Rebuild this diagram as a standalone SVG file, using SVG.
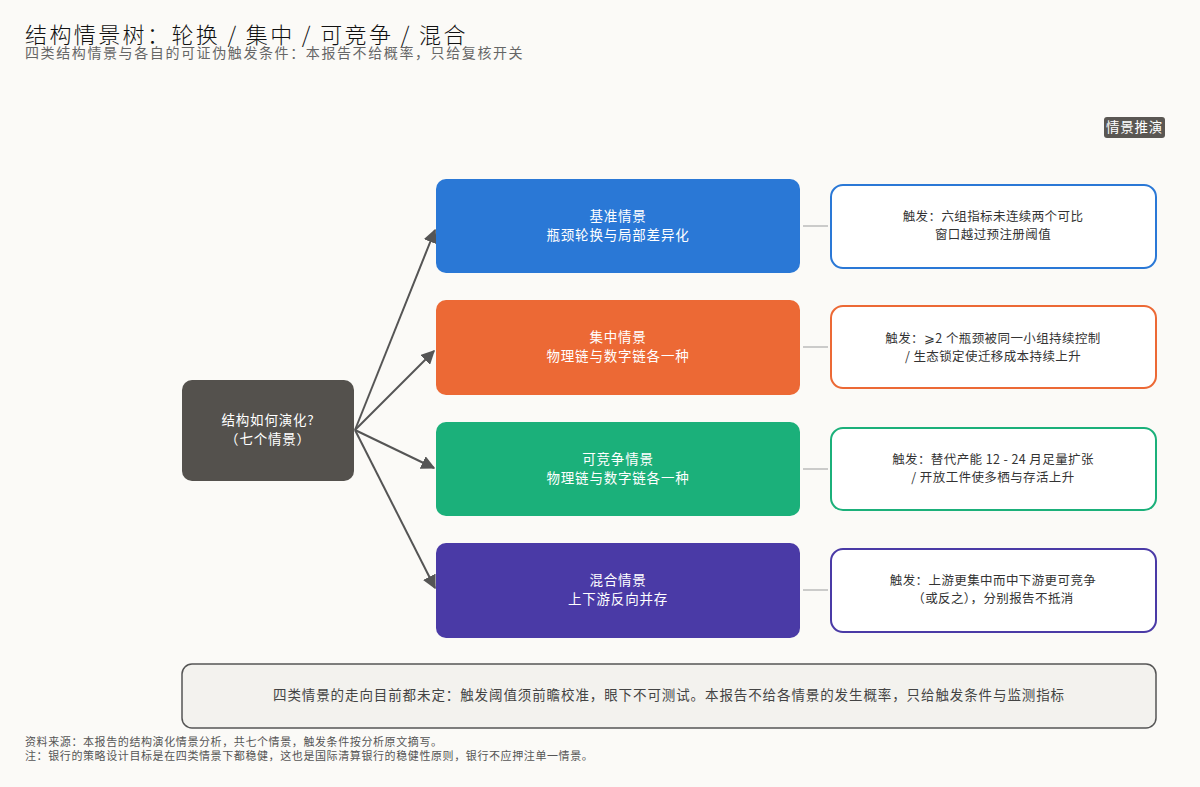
<svg xmlns="http://www.w3.org/2000/svg" width="1200" height="787" viewBox="0 0 1200 787">
<style>
text{font-family:"Noto Sans CJK SC","Liberation Sans",sans-serif}
.w{fill:#fff;font-size:13.5px;text-anchor:middle;letter-spacing:0.8px}
.t{fill:#333;font-size:12.5px;text-anchor:middle;letter-spacing:0.4px}
.trig{fill:#fff;stroke-width:2}
.arr{stroke:#555;stroke-width:2;fill:none;marker-end:url(#ah)}
.lk{stroke:#bbb;stroke-width:1.5}
.f{font-size:11px;fill:#555;letter-spacing:0.6px}
</style>
<defs><marker id="ah" viewBox="0 0 10 10" refX="9" refY="5" markerWidth="7" markerHeight="7" orient="auto"><path d="M0,0L10,5L0,10z" fill="#555"/></marker></defs>
<rect width="1200" height="787" fill="#fbfaf7"/>
<text x="25" y="43" font-size="22" fill="#111" letter-spacing="2.4" font-weight="300">结构情景树：轮换 / 集中 / 可竞争 / 混合</text>
<text x="25" y="58" font-size="14" fill="#666" letter-spacing="1.6">四类结构情景与各自的可证伪触发条件：本报告不给概率，只给复核开关</text>
<g id="badge"><rect x="1104" y="117" width="61" height="21" rx="3" fill="#5a5753"/><text x="1134.5" y="132" class="w" font-size="13" letter-spacing="0">情景推演</text></g>
<g id="connectors">
<line class="arr" x1="355" y1="430" x2="435" y2="230"/>
<line class="arr" x1="355" y1="430" x2="434" y2="351"/>
<line class="arr" x1="355" y1="430" x2="434" y2="468"/>
<line class="arr" x1="355" y1="430" x2="435" y2="588"/>
<line class="lk" x1="803" y1="226" x2="828" y2="226"/>
<line class="lk" x1="803" y1="347" x2="828" y2="347"/>
<line class="lk" x1="803" y1="469" x2="828" y2="469"/>
<line class="lk" x1="803" y1="590" x2="828" y2="590"/>
</g>
<g id="root"><rect x="182" y="380" width="172" height="101" rx="10" fill="#54514d"/><text class="w" x="268" y="425">结构如何演化?</text><text class="w" x="268" y="444">（七个情景）</text></g>
<g id="s1"><rect x="436" y="179" width="364" height="94" rx="10" fill="#2a78d6"/><text class="w" x="618" y="221">基准情景</text><text class="w" x="618" y="240">瓶颈轮换与局部差异化</text></g>
<g id="s2"><rect x="436" y="300" width="364" height="95" rx="10" fill="#ec6935"/><text class="w" x="618" y="342">集中情景</text><text class="w" x="618" y="361">物理链与数字链各一种</text></g>
<g id="s3"><rect x="436" y="422" width="364" height="94" rx="10" fill="#1bb07a"/><text class="w" x="618" y="464">可竞争情景</text><text class="w" x="618" y="483">物理链与数字链各一种</text></g>
<g id="s4"><rect x="436" y="543" width="364" height="95" rx="10" fill="#4a3aa6"/><text class="w" x="618" y="585">混合情景</text><text class="w" x="618" y="604">上下游反向并存</text></g>
<g id="t1"><rect class="trig" x="831" y="185" width="325" height="83" rx="12" stroke="#2a78d6"/><text class="t" x="993" y="221">触发：六组指标未连续两个可比</text><text class="t" x="993" y="239">窗口越过预注册阈值</text></g>
<g id="t2"><rect class="trig" x="831" y="306" width="325" height="82" rx="12" stroke="#ec6935"/><text class="t" x="993" y="343">触发：⩾2 个瓶颈被同一小组持续控制</text><text class="t" x="993" y="361">/ 生态锁定使迁移成本持续上升</text></g>
<g id="t3"><rect class="trig" x="831" y="428" width="325" height="82" rx="12" stroke="#1bb07a"/><text class="t" x="993" y="464">触发：替代产能 12 - 24 月足量扩张</text><text class="t" x="993" y="482">/ 开放工件使多栖与存活上升</text></g>
<g id="t4"><rect class="trig" x="831" y="549" width="325" height="83" rx="12" stroke="#4a3aa6"/><text class="t" x="993" y="585">触发：上游更集中而中下游更可竞争</text><text class="t" x="993" y="603">（或反之），分别报告不抵消</text></g>
<g id="note"><rect x="182" y="664" width="974" height="64" rx="10" fill="#f3f2ee" stroke="#555" stroke-width="1.5"/><text x="669" y="700" font-size="13.5" fill="#444" text-anchor="middle" letter-spacing="0.9">四类情景的走向目前都未定：触发阈值须前瞻校准，眼下不可测试。本报告不给各情景的发生概率，只给触发条件与监测指标</text></g>
<text class="f" x="25" y="746">资料来源：本报告的结构演化情景分析，共七个情景，触发条件按分析原文摘写。</text>
<text class="f" x="25" y="760">注：银行的策略设计目标是在四类情景下都稳健，这也是国际清算银行的稳健性原则，银行不应押注单一情景。</text>
</svg>
